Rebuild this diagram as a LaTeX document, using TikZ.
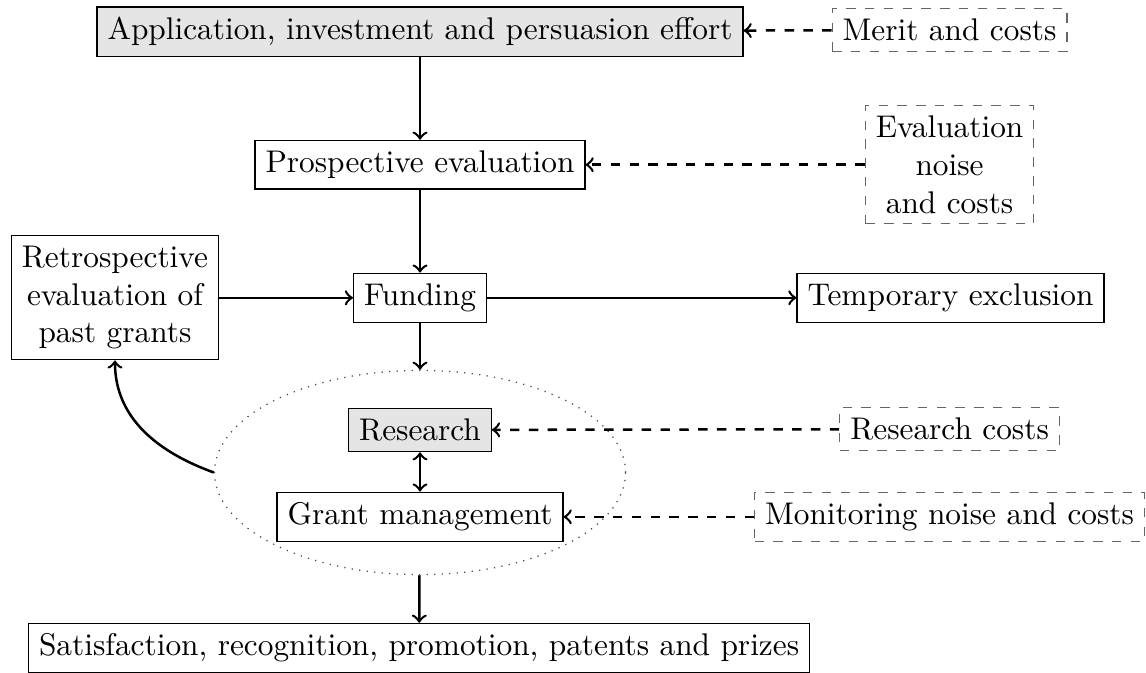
\documentclass[tikz,border=0pt]{standalone}
\usepackage{tikz}
\usetikzlibrary{shapes,arrows,positioning,calc}

\begin{document}
\begin{tikzpicture}[
    x=1.015cm, y=1.015cm,
    stage/.style={rectangle, draw=black, fill=white, align=center},
    keystage/.style={rectangle, draw=black, fill=gray!20, align=center},
    factor/.style={rectangle, draw=black!60, dashed, align=center},
    flow/.style={->, thick},
    influence/.style={->, thick, dashed}
]
\useasboundingbox (0,0) rectangle (12.66,-7.43);

% Funding process
\node[keystage] (apply) at (4.64,-0.35) {Application, investment and persuasion effort};
\node[stage] (prospective) at (4.64,-1.82) {Prospective evaluation};
\node[stage] (funding) at (4.64,-3.29) {Funding};
\node[stage] (retro) at (1.27,-3.29) {Retrospective\\evaluation of\\past grants};
\node[stage] (exclusion) at (10.50,-3.29) {Temporary exclusion};

% Research phase
\node[ellipse, draw=black!70, dotted, minimum width=4.61cm, minimum height=2.29cm] (phase) at (4.64,-5.22) {};
\node[keystage] (research) at (4.64,-4.75) {Research};
\node[stage] (management) at (4.64,-5.71) {Grant management};
\node[stage] (outcome) at (4.63,-7.16) {Satisfaction, recognition, promotion, patents and prizes};

% Cost and noise factors
\node[factor] (merit) at (10.49,-0.33) {Merit and costs};
\node[factor] (evalnoise) at (10.49,-1.82) {Evaluation\\noise\\and costs};
\node[factor] (rescost) at (10.49,-4.74) {Research costs};
\node[factor] (monitor) at (10.49,-5.71) {Monitoring noise and costs};

% Main flow
\draw[flow] (apply) -- (prospective);
\draw[flow] (prospective) -- (funding);
\draw[flow] (retro) -- (funding);
\draw[flow] (funding) -- (exclusion);
\draw[flow] (funding) -- (phase);
\draw[<->, thick] (research) -- (management);
\draw[flow] (phase) -- (outcome);
\draw[flow] (phase.west) to[out=160, in=-90] (retro.south);

% Influences
\draw[influence] (merit) -- (apply);
\draw[influence] (evalnoise) -- (prospective);
\draw[influence] (rescost) -- (research);
\draw[influence] (monitor) -- (management);

\end{tikzpicture}
\end{document}
